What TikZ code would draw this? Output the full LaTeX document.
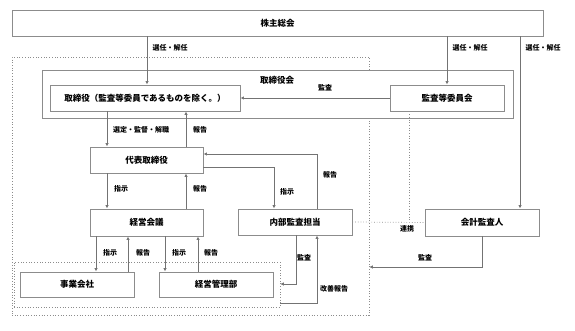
\documentclass[tikz,border=0pt]{standalone}
\usepackage{fontspec}
\setmainfont{Noto Sans CJK JP}
\usepackage{tikz}
\usetikzlibrary{arrows.meta}

\begin{document}
\begin{tikzpicture}[x=1pt, y=-1pt,
    box/.style={draw=black!45, fill=white, line width=0.9pt, inner sep=0pt,
        font=\fontsize{8.5}{10}\selectfont\bfseries},
    area/.style={draw=black!45, dotted, line width=0.7pt, inner sep=0pt},
    line/.style={draw=black!55, line width=0.8pt},
    arr/.style={line, -{Latex[length=3.5pt,width=3.5pt]}},
    link/.style={draw=black!45, dotted, line width=0.7pt},
    lbl/.style={font=\fontsize{7}{8}\selectfont\bfseries, inner sep=0pt}]

    \useasboundingbox (0,0) rectangle (575,331);

    % groups
    \node[area, minimum width=357, minimum height=258] (grp) at (190.5,186) {};
    \node[area, minimum width=266, minimum height=45] (sub) at (147,284.5) {};

    % boxes
    \node[box, minimum width=531, minimum height=26] (kabu) at (277.5,23) {株主総会};
    \node[box, minimum width=471, minimum height=48] (torikai) at (277.5,94) {};
    \node[box, draw=none, fill=none] (torikainame) at (277,80) {取締役会};
    \node[box, minimum width=190, minimum height=26] (tori) at (145,98) {取締役（監査等委員であるものを除く。）};
    \node[box, minimum width=114, minimum height=26] (kansa) at (447,98) {監査等委員会};
    \node[box, minimum width=113, minimum height=26] (daihyo) at (146.5,160) {代表取締役};
    \node[box, minimum width=113, minimum height=27] (keiei) at (146.5,222.5) {経営会議};
    \node[box, minimum width=114, minimum height=26] (naibu) at (295,222) {内部監査担当};
    \node[box, minimum width=114, minimum height=27] (kaikei) at (482,222.5) {会計監査人};
    \node[box, minimum width=114, minimum height=25] (jigyo) at (77,284.5) {事業会社};
    \node[box, minimum width=114, minimum height=25] (kanri) at (216,284.5) {経営管理部};

    % connectors
    \draw[arr] (147,0 |- kabu.south) -- (147,0 |- tori.north);
    \draw[arr] (447,0 |- kabu.south) -- (kansa.north);
    \draw[arr] (520,0 |- kabu.south) -- (520,0 |- kaikei.north);
    \draw[arr] (kansa.west) -- (tori.east);
    \draw[arr] (107,0 |- tori.south) -- (107,0 |- daihyo.north);
    \draw[arr] (186,0 |- daihyo.north) -- (186,0 |- tori.south);
    \draw[arr] (107,0 |- daihyo.south) -- (107,0 |- keiei.north);
    \draw[arr] (186,0 |- keiei.north) -- (186,0 |- daihyo.south);
    \draw[arr] (daihyo.east |- 0,167) -| (274,0 |- naibu.north);
    \draw[arr] (317,0 |- naibu.north) |- (daihyo.east |- 0,154);
    \draw[arr] (96,0 |- keiei.south) -- (96,0 |- jigyo.north);
    \draw[arr] (128,0 |- jigyo.north) -- (128,0 |- keiei.south);
    \draw[arr] (165,0 |- keiei.south) -- (165,0 |- kanri.north);
    \draw[arr] (198,0 |- kanri.north) -- (198,0 |- keiei.south);
    \draw[arr] (296,0 |- naibu.south) |- (sub.east |- 0,284);
    \draw[arr] (sub.east |- 0,303) -| (317,0 |- naibu.south);
    \draw[arr] (482,0 |- kaikei.south) |- (grp.east |- 0,267);
    \draw[link] (naibu.east) -- (kaikei.west);
    \draw[link] (409,0 |- kansa.south) -- (409,0 |- naibu.east);

    \foreach \x/\y/\t [count=\i] in {
        170/48/選任・解任,
        470/48/選任・解任,
        543/48/選任・解任,
        325/88/監査,
        141/130/選定・監督・解職,
        200/130/報告,
        121/189/指示,
        200/189/報告,
        287/192/指示,
        330/175/報告,
        110/253/指示,
        143/253/報告,
        179/253/指示,
        211/253/報告,
        304/258/監査,
        334/289/改善報告,
        407/229/連携,
        425/258/監査%
    } {
        \node[lbl] (lbl\i) at (\x,\y) {\t};
    }

\end{tikzpicture}
\end{document}
